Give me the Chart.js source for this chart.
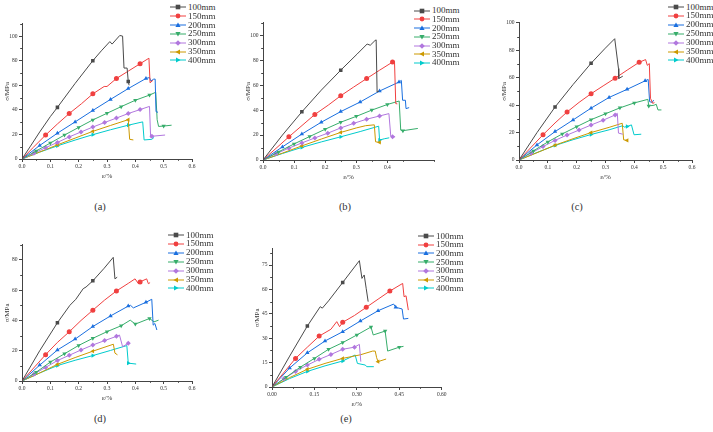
<!DOCTYPE html>
<html>
<head>
<meta charset="utf-8">
<script src="https://cdn.jsdelivr.net/npm/chart.js@4.4.1/dist/chart.umd.min.js"></script>
<style>
  body { margin: 0; background: #fff; width: 713px; height: 432px; position: relative; overflow: hidden;
         font-family: "Liberation Serif", "Times New Roman", serif; }
  canvas { position: absolute; }
  .leg { position: absolute; font-size: 9px; line-height: 9px; color: #333; white-space: nowrap;
         display: flex; align-items: center; }
  .leg svg { margin-right: 2px; }
  .lab { position: absolute; font-size: 10.5px; color: #333; font-weight: normal; transform: translate(-50%, -50%); }
</style>
</head>
<body>
<script>
// specimen lengths
const sizes = ['100mm', '150mm', '200mm', '250mm', '300mm', '350mm', '400mm'];

// strain (%) / stress (MPa) curves, one list per panel, one entry per specimen length
const curvesA = [
  [[0,0],[0.03,10.5],[0.0625,22],[0.1,34.5],[0.125,42],[0.1875,61.5],[0.25,80],[0.28,88],[0.31,95.5],[0.318,93.5],[0.345,100.5],[0.355,100],[0.36,74],[0.371,74],[0.375,63],[0.378,60]],
  [[0,0],[0.04,9.5],[0.0833,19.5],[0.125,28.5],[0.1667,37],[0.21,45],[0.25,53],[0.29,59],[0.3,59],[0.3333,65.5],[0.375,71.5],[0.4167,77.5],[0.448,82],[0.452,62],[0.462,64]],
  [[0,0],[0.0625,11],[0.125,21],[0.1875,30.2],[0.25,39.5],[0.3125,48.5],[0.375,57.3],[0.4375,65.5],[0.45,66.3],[0.455,63.5],[0.465,65],[0.47,65],[0.473,38.5],[0.48,38]],
  [[0,0],[0.05,6.5],[0.1,13],[0.15,19.5],[0.2,25.7],[0.25,31.8],[0.3,37.2],[0.35,42.6],[0.4,47.8],[0.45,52],[0.472,54.3],[0.477,32],[0.482,26.5],[0.5,26.8],[0.528,27.5]],
  [[0,0],[0.0417,4.6],[0.0833,9.2],[0.125,13.5],[0.1667,18],[0.2083,22],[0.25,26],[0.2917,29.7],[0.3333,33.3],[0.375,37],[0.4167,40.2],[0.45,42.8],[0.454,17.6],[0.4583,18.5],[0.505,19.5]],
  [[0,0],[0.0625,5.7],[0.125,11.5],[0.1875,17],[0.25,22.5],[0.3125,27.3],[0.375,32],[0.38,16],[0.393,15.5]],
  [[0,0],[0.0625,5.6],[0.125,10.7],[0.1875,15.4],[0.25,19.8],[0.3125,23.8],[0.375,27.5],[0.426,30.2],[0.431,15.5],[0.458,16],[0.466,17.6]]
];
const curvesB = [
  [[0,0],[0.0625,20],[0.125,38.6],[0.1875,56],[0.25,72],[0.303,85],[0.335,93],[0.345,92],[0.36,95.7],[0.364,96.3],[0.367,54.5],[0.373,55.3]],
  [[0,0],[0.0833,18.6],[0.1667,36.5],[0.21,44],[0.25,51.5],[0.2917,58.5],[0.3333,65.3],[0.375,72],[0.4167,78.5],[0.423,78.7],[0.427,45.2],[0.432,45]],
  [[0,0],[0.0625,10.5],[0.125,20.8],[0.1875,30.3],[0.25,38.8],[0.3125,46.5],[0.375,55.3],[0.4375,62.5],[0.445,63.8],[0.449,47.9],[0.458,47.9],[0.46,41.2],[0.47,42]],
  [[0,0],[0.05,6.5],[0.1,12.9],[0.15,18.8],[0.2,24.7],[0.25,30.3],[0.3,35],[0.35,40],[0.4,44.5],[0.438,47.3],[0.443,23.9],[0.45,23.5],[0.498,25.3]],
  [[0,0],[0.0417,5],[0.0833,9.5],[0.125,13.7],[0.1667,17.7],[0.2083,21.5],[0.25,25.7],[0.2917,29.4],[0.3333,32.7],[0.375,35.3],[0.405,37.2],[0.411,19.1],[0.4167,18.6],[0.425,18.6]],
  [[0,0],[0.0625,5.5],[0.125,11.3],[0.1875,16.8],[0.25,22.1],[0.3,25.7],[0.33,27.5],[0.358,28.2],[0.362,14.6],[0.375,14.1],[0.379,14.3]],
  [[0,0],[0.0625,5.2],[0.125,10.1],[0.1875,14.5],[0.25,18.6],[0.3125,22.8],[0.372,27.1],[0.375,16],[0.39,17],[0.406,17.8]]
];
const curvesC = [
  [[0,0],[0.0625,20],[0.125,38.6],[0.1875,55],[0.25,70.5],[0.297,81],[0.332,88.4],[0.345,66.7],[0.346,59.4],[0.36,61.1]],
  [[0,0],[0.0833,18.4],[0.125,27],[0.1667,35],[0.2083,42],[0.25,48.3],[0.2917,54],[0.3333,59.6],[0.375,65.5],[0.4167,71.2],[0.439,73.2],[0.445,69],[0.452,70.3],[0.456,45],[0.4636,41.3],[0.47,41.8]],
  [[0,0],[0.0625,11],[0.125,20.7],[0.1875,29.2],[0.25,37.8],[0.3125,45.6],[0.375,51.5],[0.4375,57.7],[0.448,58.7],[0.453,42.5],[0.462,42],[0.467,43.7]],
  [[0,0],[0.05,6.6],[0.1,13.2],[0.15,19],[0.2,24.3],[0.25,29.4],[0.3,33.7],[0.35,38],[0.4,41.6],[0.447,44.2],[0.45,39.4],[0.468,39.9],[0.476,40.6],[0.482,36.5],[0.494,36.5]],
  [[0,0],[0.0417,5],[0.0833,9.8],[0.125,14.3],[0.1667,18.2],[0.2083,21.8],[0.25,25.5],[0.2917,29],[0.3333,32.8],[0.341,34],[0.345,19.6],[0.36,18.8]],
  [[0,0],[0.0625,5.3],[0.125,10.8],[0.1875,15.5],[0.25,20],[0.3125,23.8],[0.358,26.8],[0.363,14.7],[0.375,14.3],[0.378,14.3]],
  [[0,0],[0.0625,5.5],[0.125,10.6],[0.1875,14.8],[0.25,18.6],[0.3125,22],[0.36,25],[0.365,24],[0.375,24.4],[0.39,25.6],[0.399,18.4],[0.424,18.8]]
];
const curvesD = [
  [[0,0],[0.0625,20],[0.125,38.5],[0.169,50],[0.19,54],[0.216,61],[0.226,62.1],[0.25,66.2],[0.29,74.5],[0.322,81.7],[0.328,67.5],[0.336,68.6]],
  [[0,0],[0.0833,17.4],[0.125,25.5],[0.1667,32.5],[0.2083,40],[0.25,46.8],[0.2917,53.5],[0.3333,59.5],[0.375,64.5],[0.399,67.5],[0.411,64.3],[0.4167,65.5],[0.44,67.5],[0.446,64.3],[0.452,65]],
  [[0,0],[0.0625,10.5],[0.125,20.5],[0.1875,27.7],[0.25,36],[0.3125,43],[0.375,49.5],[0.383,50],[0.393,48.3],[0.4375,52],[0.458,54],[0.463,36.9],[0.469,38],[0.476,33.7]],
  [[0,0],[0.05,5.8],[0.1,12.5],[0.15,18],[0.2,23.5],[0.25,28.2],[0.3,32.6],[0.35,36.5],[0.382,40.2],[0.4,37.6],[0.45,41.3],[0.466,39.1],[0.482,40.2]],
  [[0,0],[0.0417,4.5],[0.0833,9],[0.125,13.5],[0.1667,17],[0.2083,20.5],[0.25,23.8],[0.2917,26.7],[0.3333,29.5],[0.344,30.4],[0.355,22.7],[0.375,24.9]],
  [[0,0],[0.0625,5.3],[0.125,11],[0.1875,15.5],[0.25,19.7],[0.3225,24.3],[0.328,18.4],[0.337,17.3]],
  [[0,0],[0.0625,5.3],[0.125,10.2],[0.1875,13.7],[0.25,16.8],[0.3125,20.2],[0.37,23.4],[0.375,11.8],[0.403,11.2]]
];
const curvesE = [
  [[0,0],[0.0625,19],[0.125,37.5],[0.1706,49.4],[0.178,48.5],[0.2,53],[0.25,64.3],[0.309,77.7],[0.318,66.8],[0.326,68.9],[0.333,60.7],[0.34,52.5]],
  [[0,0],[0.0833,17.6],[0.125,24.5],[0.1667,31.3],[0.2083,35.5],[0.229,40.2],[0.239,37.1],[0.25,39.8],[0.2917,44],[0.3333,49],[0.375,54],[0.4167,59],[0.462,63.7],[0.467,55.5],[0.474,56.1],[0.482,47.3]],
  [[0,0],[0.0625,11.7],[0.125,21],[0.1875,28.3],[0.25,34],[0.3125,40.6],[0.375,46.9],[0.43,51],[0.4375,49],[0.46,48],[0.465,41.8],[0.482,42.2]],
  [[0,0],[0.05,6],[0.1,12.2],[0.15,17.6],[0.2,23.2],[0.25,27.3],[0.3,32],[0.35,36.9],[0.358,32],[0.4,34.4],[0.409,22.1],[0.45,24.5],[0.465,25]],
  [[0,0],[0.0417,5],[0.0833,9.6],[0.125,13.5],[0.1667,17],[0.2083,20],[0.25,23.2],[0.2917,24.5],[0.309,26.2],[0.314,15.6]],
  [[0,0],[0.0625,5.8],[0.125,10.9],[0.1875,14.5],[0.25,17.6],[0.3125,19.8],[0.356,22.1],[0.365,22.1],[0.37,18],[0.375,15.6],[0.4035,17.2]],
  [[0,0],[0.0625,5.2],[0.125,9.6],[0.1875,13],[0.25,16],[0.294,19.7],[0.302,14.5],[0.33,13.5],[0.335,12.5],[0.36,12.5]]
];

// axes of the five panels
const panelNames = ['(a)', '(b)', '(c)', '(d)', '(e)'];
const xMax = [0.6, 0.55, 0.6, 0.6, 0.6];
const xStep = [0.1, 0.1, 0.1, 0.1, 0.15];
const xDigits = [1, 1, 1, 1, 2];
const yMax = [110, 110, 100, 90, 85];
const yStep = [20, 20, 20, 20, 15];
// strain spacing of the symbols on each curve
const markStep = [0.125, 1 / 12, 0.0625, 0.05, 1 / 24, 0.125, 0.125];

// look
const colors = ['#4a4a4a', '#f04040', '#1a6fdf', '#37ad6b', '#b177de', '#cc9900', '#00cbcc'];
const shapes = [['rect', 0], ['circle', 0], ['triangle', 0], ['triangle', 180], ['rectRot', 0], ['triangle', 270], ['triangle', 90]];
const svgMarks = [
  '<rect x="5.7" y="0.7" width="4.6" height="4.6"/>',
  '<circle cx="8" cy="3" r="2.4"/>',
  '<polygon points="8,0.4 10.6,5 5.4,5"/>',
  '<polygon points="8,5.6 10.6,1 5.4,1"/>',
  '<polygon points="8,0.2 10.8,3 8,5.8 5.2,3"/>',
  '<polygon points="5.4,3 10,0.4 10,5.6"/>',
  '<polygon points="10.6,3 6,0.4 6,5.6"/>'
];
const boxes = [[22, 23, 192, 159], [263, 22, 434, 160], [519, 22, 692, 160], [22, 244, 192, 381], [272, 248, 442, 387]];
const legends = [[170, 7.3, 8.85], [414, 10.7, 8.7], [668, 7, 8.9], [168, 235, 8.9], [418, 236, 8.7]];
const labelPos = [[100, 206], [345, 206], [577, 206], [100, 418], [346, 418]];

const serif = '"Liberation Serif", "Times New Roman", serif';
const axisColor = '#444';
const Y_W = 20, X_H = 21, PAD_T = 4, PAD_R = 6;

function isMark(x, step) {
  return x > 0 && Math.abs(x / step - Math.round(x / step)) < 0.01;
}

const minorTicks = {
  id: 'minorTicks',
  afterDraw(chart, args, opts) {
    const ctx = chart.ctx, xs = chart.scales.x, ys = chart.scales.y;
    ctx.save();
    ctx.strokeStyle = axisColor;
    ctx.lineWidth = 1;
    ctx.beginPath();
    for (let v = opts.xs / 2; v <= opts.xm + 1e-9; v += opts.xs) {
      const p = Math.round(xs.getPixelForValue(v)) + 0.5;
      ctx.moveTo(p, xs.top); ctx.lineTo(p, xs.top + 1.8);
    }
    for (let v = opts.ys / 2; v <= opts.ym + 1e-9; v += opts.ys) {
      const p = Math.round(ys.getPixelForValue(v)) + 0.5;
      ctx.moveTo(ys.right, p); ctx.lineTo(ys.right - 1.8, p);
    }
    ctx.stroke();
    ctx.restore();
  }
};

const allCurves = [curvesA, curvesB, curvesC, curvesD, curvesE];

allCurves.forEach((curves, p) => {
  const [L, T, R, B] = boxes[p];
  const cv = document.createElement('canvas');
  const w = R - L + Y_W + PAD_R, h = B - T + PAD_T + X_H;
  cv.width = w; cv.height = h;
  cv.style.left = (L - Y_W) + 'px';
  cv.style.top = (T - PAD_T) + 'px';
  cv.style.width = w + 'px'; cv.style.height = h + 'px';
  document.body.appendChild(cv);

  new Chart(cv, {
    type: 'line',
    data: {
      datasets: curves.map((pts, i) => ({
        label: sizes[i],
        data: pts,
        borderColor: colors[i],
        backgroundColor: colors[i],
        borderWidth: 1,
        tension: 0,
        pointStyle: shapes[i][0],
        pointRotation: shapes[i][1],
        pointBorderWidth: 0,
        pointRadius: ctx => isMark(ctx.raw[0], markStep[i]) ? 2.5 : 0,
        pointHoverRadius: 0
      }))
    },
    options: {
      responsive: false,
      animation: false,
      devicePixelRatio: 1,
      layout: { padding: { top: PAD_T, right: PAD_R, left: 0, bottom: 0 } },
      plugins: {
        legend: { display: false },
        tooltip: { enabled: false },
        minorTicks: { xs: xStep[p], xm: xMax[p], ys: yStep[p], ym: yMax[p] }
      },
      scales: {
        x: {
          type: 'linear', min: 0, max: xMax[p],
          afterFit: s => { s.height = X_H; },
          afterBuildTicks: s => {
            s.ticks = s.ticks.filter(t => Math.abs(t.value / xStep[p] - Math.round(t.value / xStep[p])) < 1e-6);
          },
          ticks: {
            stepSize: xStep[p], padding: 1.5, maxRotation: 0, autoSkip: false,
            color: '#333', font: { family: serif, size: 5.5 },
            callback: v => Number(v).toFixed(xDigits[p])
          },
          grid: { drawOnChartArea: false, drawTicks: true, tickLength: 3, color: axisColor },
          border: { display: true, color: axisColor, width: 1 },
          title: { display: true, text: 'ε/%', color: '#333', font: { family: serif, size: 7 }, padding: { top: 0, bottom: 0 } }
        },
        y: {
          min: 0, max: yMax[p],
          afterFit: s => { s.width = Y_W; },
          afterBuildTicks: s => {
            s.ticks = s.ticks.filter(t => t.value % yStep[p] === 0);
          },
          ticks: {
            stepSize: yStep[p], padding: 1.5, autoSkip: false,
            color: '#333', font: { family: serif, size: 5.5 }
          },
          grid: { drawOnChartArea: false, drawTicks: true, tickLength: 3, color: axisColor },
          border: { display: true, color: axisColor, width: 1 },
          title: { display: true, text: 'σ/MPa', color: '#333', font: { family: serif, size: 7 }, padding: { top: 1, bottom: 0 } }
        }
      }
    },
    plugins: [minorTicks]
  });

  // legend
  const [lx, ly, ldy] = legends[p];
  sizes.forEach((s, i) => {
    const d = document.createElement('div');
    d.className = 'leg';
    d.style.left = lx + 'px';
    d.style.top = (ly + i * ldy - 4.5) + 'px';
    d.innerHTML = '<svg width="16" height="6" viewBox="0 0 16 6"><line x1="0" y1="3" x2="16" y2="3" stroke="' +
      colors[i] + '" stroke-width="1"/><g fill="' + colors[i] + '">' + svgMarks[i] + '</g></svg><span>' + s + '</span>';
    document.body.appendChild(d);
  });

  const lab = document.createElement('div');
  lab.className = 'lab';
  lab.style.left = labelPos[p][0] + 'px';
  lab.style.top = labelPos[p][1] + 'px';
  lab.textContent = panelNames[p];
  document.body.appendChild(lab);
});
</script>
</body>
</html>
